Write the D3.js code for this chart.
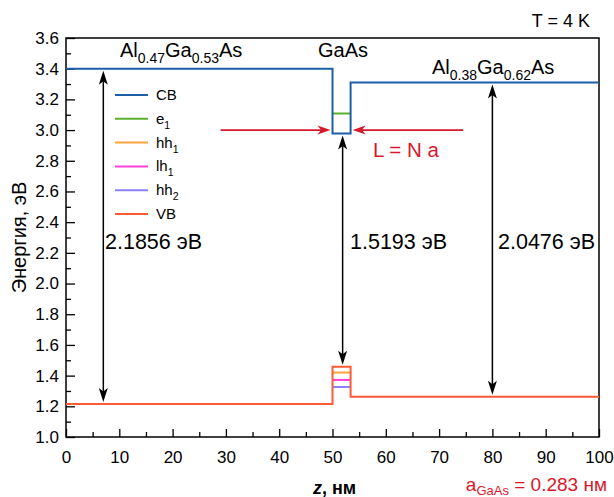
<!DOCTYPE html>
<html>
<head>
<meta charset="utf-8">
<script src="https://cdn.jsdelivr.net/npm/d3@7"></script>
<style>
  body { margin: 0; background: #fff; }
  svg { display: block; }
  text { font-family: "Liberation Sans", Arial, Helvetica, sans-serif; }
</style>
</head>
<body>
<svg id="chart" width="614" height="497"></svg>
<script>
// Heterostructure Al0.47Ga0.53As / GaAs / Al0.38Ga0.62As band diagram at T = 4 K
const latticeA = 0.283;          // GaAs lattice constant, nm
const wellN = 12;                // monolayers in the well
const wellStart = 50;            // nm
const zMax = 100;                // nm

const layerNames = ["Al0.47Ga0.53As", "GaAs", "Al0.38Ga0.62As"];
const cbEdge = [3.400, 2.977, 3.310];      // conduction band edge per layer, eV
const bandGap = [2.1856, 1.5193, 2.0476];  // band gap per layer, eV
const gapArrowZ = [7, 51.9, 80];            // z of the gap arrows, nm

const levelKeys = ["e1", "hh1", "lh1", "hh2"];
const levelEnergy = [3.108, 1.420, 1.372, 1.326];   // quantised levels in the well, eV

const legendKeys = ["CB", "e1", "hh1", "lh1", "hh2", "VB"];
const legendColors = ["#1d5fa6", "#5bb030", "#ffa43a", "#ff3fd6", "#8a80ff", "#ff5a36"];

const xTicks = d3.range(0, 101, 10);
const xMinor = d3.range(5, 100, 10);
const yTicks = [1.0, 1.2, 1.4, 1.6, 1.8, 2.0, 2.2, 2.4, 2.6, 2.8, 3.0, 3.2, 3.4, 3.6];
const yMinor = d3.range(1.1, 3.6, 0.2);

const colorOf = Object.fromEntries(legendKeys.map((k, i) => [k, legendColors[i]]));
const wellEnd = wellStart + wellN * latticeA;
const zEdges = [0, wellStart, wellEnd, zMax];
const vbEdge = cbEdge.map((c, i) => c - bandGap[i]);

const svg = d3.select("#chart");
const m = { left: 66, right: 15, top: 38, bottom: 60 };
const W = 614, H = 497;
const x = d3.scaleLinear().domain([0, zMax]).range([m.left, W - m.right]);
const y = d3.scaleLinear().domain([1.0, 3.6]).range([H - m.bottom, m.top]);

const red = "#d7192b";

// Axes with inward ticks
const gx = svg.append("g").attr("transform", `translate(0,${y(1.0)})`);
gx.call(d3.axisBottom(x).tickValues(xTicks).tickSizeInner(-8).tickSizeOuter(0).tickPadding(14).tickFormat(d3.format("d")));
gx.append("g").call(d3.axisBottom(x).tickValues(xMinor).tickSizeInner(-5).tickSizeOuter(0).tickFormat(""));
const gy = svg.append("g").attr("transform", `translate(${x(0)},0)`);
gy.call(d3.axisLeft(y).tickValues(yTicks).tickSizeInner(-9).tickSizeOuter(0).tickPadding(7).tickFormat(d3.format(".1f")));
gy.append("g").call(d3.axisLeft(y).tickValues(yMinor).tickSizeInner(-5).tickSizeOuter(0).tickFormat(""));
svg.selectAll(".domain").remove();
svg.selectAll(".tick line").attr("stroke", "#000").attr("stroke-width", 1.3);
svg.selectAll(".tick text").attr("font-size", 17).attr("fill", "#000");

// Frame
svg.append("rect")
  .attr("x", x(0)).attr("y", y(3.6))
  .attr("width", x(zMax) - x(0)).attr("height", y(1.0) - y(3.6))
  .attr("fill", "none").attr("stroke", "#000").attr("stroke-width", 1.5);

// Band edges as step lines
const step = d3.line().x(d => x(d[0])).y(d => y(d[1])).curve(d3.curveStepAfter);
const bandPoints = arr => zEdges.map((z, i) => [z, arr[Math.min(i, arr.length - 1)]]);

// Quantised levels inside the well
svg.selectAll("line.level").data(levelKeys).join("line")
  .attr("class", "level")
  .attr("x1", x(wellStart)).attr("x2", x(wellEnd))
  .attr("y1", (d, i) => y(levelEnergy[i])).attr("y2", (d, i) => y(levelEnergy[i]))
  .attr("stroke", d => colorOf[d]).attr("stroke-width", 2);

svg.append("path").attr("d", step(bandPoints(cbEdge)))
  .attr("fill", "none").attr("stroke", colorOf.CB).attr("stroke-width", 2);
svg.append("path").attr("d", step(bandPoints(vbEdge)))
  .attr("fill", "none").attr("stroke", colorOf.VB).attr("stroke-width", 2);

// Arrow helpers
function head(g, tx, ty, dx, dy, color, len = 14, half = 4.5, notch = 3.5) {
  const px = -dy, py = dx;
  const bx = tx - dx * len, by = ty - dy * len;
  const nx = tx - dx * (len - notch), ny = ty - dy * (len - notch);
  g.append("path")
    .attr("d", `M${tx},${ty}L${bx + px * half},${by + py * half}L${nx},${ny}L${bx - px * half},${by - py * half}Z`)
    .attr("fill", color);
}

// Vertical band-gap arrows
gapArrowZ.forEach((z, i) => {
  const g = svg.append("g");
  const xp = x(z), y1 = y(cbEdge[i]) + 2, y2 = y(vbEdge[i]) - 2;
  g.append("line").attr("x1", xp).attr("x2", xp).attr("y1", y1 + 6).attr("y2", y2 - 6)
    .attr("stroke", "#000").attr("stroke-width", 1.5);
  head(g, xp, y1, 0, -1, "#000");
  head(g, xp, y2, 0, 1, "#000");
});

// Gap labels
const gapLabelPos = [[105, 249], [350, 249], [498, 249]];
bandGap.forEach((v, i) => {
  svg.append("text").attr("x", gapLabelPos[i][0]).attr("y", gapLabelPos[i][1])
    .attr("font-size", 21.5).attr("fill", "#000")
    .text(`${v.toFixed(4)} эВ`);
});

// Well-width arrows (L = N a)
const wArrowY = y(3.0);
const wArrowFrom = [29, 74.5];
[[wArrowFrom[0], wellStart, 1], [wArrowFrom[1], wellEnd, -1]].forEach(([z0, z1, dir]) => {
  const g = svg.append("g");
  g.append("line").attr("x1", x(z0)).attr("x2", x(z1) - dir * 8)
    .attr("y1", wArrowY).attr("y2", wArrowY)
    .attr("stroke", red).attr("stroke-width", 1.8);
  head(g, x(z1) - dir * 2, wArrowY, dir, 0, red, 13, 4.5, 3.5);
});
svg.append("text").attr("x", 373).attr("y", 157).attr("font-size", 20.5).attr("fill", red).text("L = N a");

// Layer labels with subscripts
function chem(parent, px, py, parts, size, color) {
  const t = parent.append("text").attr("x", px).attr("y", py).attr("font-size", size).attr("fill", color);
  let shifted = false;
  parts.forEach(([s, sub]) => {
    const sp = t.append("tspan").text(s);
    if (sub && !shifted) { sp.attr("dy", size * 0.3).attr("font-size", size * 0.7); shifted = true; }
    else if (!sub && shifted) { sp.attr("dy", -size * 0.3); shifted = false; }
    else if (sub) sp.attr("font-size", size * 0.7);
  });
  return t;
}
const splitChem = name => name.match(/[A-Za-z]+|[0-9.]+/g).map(s => [s, /^[0-9.]/.test(s)]);
const layerLabelPos = [[120, 57], [318, 57], [432, 74]];
layerNames.forEach((n, i) => chem(svg, layerLabelPos[i][0], layerLabelPos[i][1], splitChem(n), 20, "#000"));

svg.append("text").attr("x", 590).attr("y", 27).attr("text-anchor", "end")
  .attr("font-size", 18).attr("fill", "#000").text("T = 4 K");

// Legend
const lg = svg.append("g").attr("transform", "translate(115,95)");
legendKeys.forEach((k, i) => {
  const row = lg.append("g").attr("transform", `translate(0,${i * 23.8})`);
  row.append("line").attr("x1", 0).attr("x2", 33).attr("y1", 0).attr("y2", 0)
    .attr("stroke", legendColors[i]).attr("stroke-width", 2);
  const m2 = k.match(/^([A-Za-z]+)(\d*)$/);
  const t = row.append("text").attr("x", 41).attr("y", 5).attr("font-size", 15).attr("fill", "#000");
  t.append("tspan").text(m2[1]);
  if (m2[2]) t.append("tspan").attr("dy", 5).attr("font-size", 10.5).text(m2[2]);
});

// Axis titles
svg.append("text")
  .attr("transform", `translate(26,${(y(1.0) + y(3.6)) / 2}) rotate(-90)`)
  .attr("text-anchor", "middle").attr("font-size", 20).attr("fill", "#000")
  .text("Энергия, эВ");

const xt = svg.append("text").attr("x", (x(0) + x(zMax)) / 2 + 2).attr("y", 494)
  .attr("text-anchor", "middle").attr("font-size", 18).attr("font-weight", "bold").attr("fill", "#000");
xt.append("tspan").attr("font-style", "italic").text("z");
xt.append("tspan").text(", нм");

// Lattice constant note
const an = svg.append("text").attr("x", 607).attr("y", 491).attr("text-anchor", "end")
  .attr("font-size", 19).attr("fill", red);
an.append("tspan").text("a");
an.append("tspan").attr("dy", 4).attr("font-size", 13).text("GaAs");
an.append("tspan").attr("dy", -4).text(` = ${latticeA} нм`);
</script>
</body>
</html>
